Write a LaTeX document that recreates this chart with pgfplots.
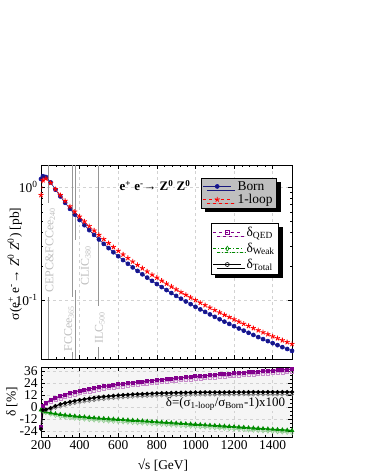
\documentclass[border=0pt]{standalone}
\usepackage{fontspec}
\setmainfont{Liberation Serif}
\usepackage{pgfplots}
\pgfplotsset{compat=1.18}
\usepackage{pgfplotstable}
\usetikzlibrary{shadows}

\definecolor{navyb}{RGB}{25,25,125}
\definecolor{qedc}{RGB}{130,0,140}
\definecolor{weakc}{RGB}{0,140,0}
\definecolor{vline}{RGB}{150,150,150}
\definecolor{vtext}{RGB}{190,190,190}

\pgfplotstableread{
s born oneloop qed qedo weak weako tot toto
200 1.18 0.85 -20 -20 -3 -3 -22 -22
210 1.25 1.15 1 0.5 -4 -4.5 -3 -3.5
225 1.23 1.19 4 3 -5 -6 -2.5 -3.5
250 1.1007 1.090 7 5.5 -6 -7.5 -1 -2.5
275 0.9495 0.959 9 7 -6.8 -8.8 1 -1
300 0.8269 0.849 11 8.5 -7.5 -10 2.7 0.2
325 0.7262 0.755 12.5 10 -8.1 -10.6 4 1.5
350 0.6418 0.675 14 11.5 -8.6 -11.1 5.2 2.7
375 0.5710 0.606 15.2 12.7 -9.1 -11.6 6.2 3.7
400 0.5112 0.547 16.3 13.8 -9.6 -12.1 7 4.5
425 0.4599 0.496 17.3 14.8 -10 -12.5 7.8 5.3
450 0.4155 0.451 18.2 15.7 -10.5 -13 8.5 6
475 0.3772 0.412 19 16.5 -10.9 -13.4 9.2 6.7
500 0.3436 0.377 19.8 17.3 -11.3 -13.8 9.8 7.3
525 0.3140 0.346 20.6 18.1 -11.6 -14.1 10.3 7.8
550 0.2879 0.319 21.3 18.8 -11.9 -14.4 10.8 8.3
575 0.2648 0.294 22 19.5 -12.2 -14.7 11.2 8.7
600 0.2442 0.2725 22.6 20.1 -12.5 -15 11.6 9.1
625 0.2258 0.2529 23.2 20.7 -12.8 -15.3 12 9.5
650 0.2093 0.2350 23.8 21.3 -13.1 -15.6 12.3 9.8
675 0.1944 0.2189 24.4 21.9 -13.4 -15.9 12.6 10.1
700 0.1810 0.2043 25 22.5 -13.7 -16.2 12.9 10.4
725 0.1688 0.1909 25.5 23 -14 -16.5 13.1 10.6
750 0.1578 0.1788 26 23.5 -14.3 -16.8 13.3 10.8
775 0.1477 0.1676 26.5 24 -14.7 -17.2 13.5 11
800 0.1385 0.1575 27 24.5 -15 -17.5 13.7 11.2
825 0.1301 0.1481 27.5 25 -15.3 -17.8 13.85 11.35
850 0.1224 0.1395 28 25.5 -15.6 -18.1 14 11.5
875 0.1152 0.1314 28.4 25.9 -15.9 -18.4 14.1 11.6
900 0.1087 0.1241 28.9 26.4 -16.2 -18.7 14.2 11.7
925 0.1026 0.1173 29.3 26.8 -16.5 -19 14.3 11.8
950 0.0970 0.1110 29.7 27.2 -16.8 -19.3 14.4 11.9
975 0.0918 0.1051 30.2 27.7 -17.1 -19.6 14.5 12
1000 0.0870 0.0997 30.6 28.1 -17.4 -19.9 14.6 12.1
1025 0.0825 0.0946 31 28.5 -17.7 -20.2 14.65 12.15
1050 0.0784 0.0899 31.4 28.9 -18 -20.5 14.7 12.2
1075 0.0745 0.0855 31.8 29.3 -18.3 -20.8 14.72 12.22
1100 0.0709 0.0814 32.2 29.7 -18.6 -21.1 14.75 12.25
1125 0.0675 0.0775 32.6 30.1 -18.9 -21.4 14.78 12.28
1150 0.0643 0.0738 33 30.5 -19.2 -21.7 14.8 12.3
1175 0.0614 0.0705 33.3 30.8 -19.5 -22 14.82 12.32
1200 0.0586 0.0673 33.7 31.2 -19.8 -22.3 14.85 12.35
1225 0.0559 0.0642 34.1 31.6 -20.1 -22.6 14.87 12.37
1250 0.0535 0.0615 34.4 31.9 -20.4 -22.9 14.9 12.4
1275 0.0512 0.0588 34.8 32.3 -20.8 -23.3 14.9 12.4
1300 0.0490 0.0563 35.1 32.6 -21.1 -23.6 14.92 12.42
1325 0.0469 0.0539 35.5 33 -21.4 -23.9 14.93 12.43
1350 0.0450 0.0517 35.8 33.3 -21.7 -24.2 14.95 12.45
1375 0.0432 0.0497 36.2 33.7 -22 -24.5 14.95 12.45
1400 0.0414 0.0476 36.5 34 -22.3 -24.8 14.96 12.46
1425 0.0398 0.0458 36.9 34.4 -22.6 -25.1 14.97 12.47
1450 0.0382 0.0439 37.2 34.7 -22.9 -25.4 14.98 12.48
1475 0.0368 0.0423 37.5 35 -23.2 -25.7 14.99 12.49
1500 0.0354 0.0407 37.8 35.3 -23.5 -26 15 12.5
}\data

\pgfplotsset{
  every axis/.append style={
    scale only axis,
    xmin=200, xmax=1500,
    tick align=inside,
    major tick length=4bp, minor tick length=2bp,
    every tick/.style={black, line width=0.5bp},
    axis line style={line width=0.9bp},
    tick label style={font=\fontsize{13.5}{15}\selectfont},
    label style={font=\fontsize{13.5}{15}\selectfont},
    /pgf/number format/assume math mode=true,
    /pgf/number format/set thousands separator={},
    grid=major,
    major grid style={dashed, gray!35, line width=0.4bp},
    minor x tick num=4,
    legend cell align=left,
    legend image code/.code={\draw[mark repeat=2,mark phase=2,##1] plot coordinates {(0bp,0bp) (14bp,0bp) (28bp,0bp)};},
  },
}

\begin{document}
\begin{tikzpicture}
\useasboundingbox (0bp,0bp) rectangle (366bp,473bp);

% ---------------- top panel ----------------
\begin{axis}[
  at={(41bp,114bp)}, anchor=south west,
  width=251bp, height=194bp,
  ymode=log, ymin=0.03, ymax=1.57,
  xtick={200,400,...,1400}, xticklabels={},
  ytick={0.1,1}, yticklabels={10\textsuperscript{-1},10\textsuperscript{0}},
  ylabel={σ(e\textsuperscript{+} e\textsuperscript{-}→ \textit{Z}\textsuperscript{0} \textit{Z}\textsuperscript{0}) [pb]},
  ylabel style={at={(axis description cs:-0.104,0.49)}, anchor=center},
  legend style={at={(0.94,0.933)}, anchor=north east, fill=gray!50, draw=black,
    line width=0.6bp, font=\fontsize{13.5}{15}\selectfont, row sep=-1.5bp,
    inner xsep=2bp, inner ysep=1bp,
    /tikz/every odd column/.append style={column sep=4bp},
    drop shadow={shadow xshift=4bp, shadow yshift=-4bp, fill=black, opacity=1}},
]
% facility lines
\addplot[vline, line width=0.9bp, forget plot] coordinates {(240,1.57) (240,0.722)};
\addplot[vline, line width=0.9bp, forget plot] coordinates {(240,0.1063) (240,0.03)};
\addplot[vline, line width=0.9bp, forget plot] coordinates {(365,1.57) (365,0.1063)};
\addplot[vline, line width=0.9bp, forget plot] coordinates {(365,0.0347) (365,0.03)};
\addplot[vline, line width=0.9bp, forget plot] coordinates {(380,1.57) (380,0.34)};
\addplot[vline, line width=0.9bp, forget plot] coordinates {(380,0.1226) (380,0.03)};
\addplot[vline, line width=0.9bp, forget plot] coordinates {(500,1.57) (500,0.0885)};
\addplot[vline, line width=0.9bp, forget plot] coordinates {(500,0.0384) (500,0.03)};
\node[rotate=90, text=vtext, font=\fontsize{12}{13}\selectfont] at (axis cs:248,0.277) {CEPC\&FCCee\textsubscript{240}};
\node[rotate=90, text=vtext, font=\fontsize{12}{13}\selectfont] at (axis cs:345,0.056) {FCCee\textsubscript{365}};
\node[rotate=90, text=vtext, font=\fontsize{12}{13}\selectfont] at (axis cs:432,0.2) {CLIC\textsubscript{380}};
\node[rotate=90, text=vtext, font=\fontsize{12}{13}\selectfont] at (axis cs:505,0.0564) {ILC\textsubscript{500}};

\addplot[navyb, line width=0.6bp, mark=*, mark size=2bp, mark options={fill=navyb, draw=blue!30!navyb}] table[x=s, y=born] {\data};
\addlegendentry{Born}
\addplot[red, dashed, line width=0.6bp, mark=star, mark size=2.6bp, mark options={solid, line width=0.9bp}] table[x=s, y=oneloop] {\data};
\addlegendentry{1-loop}

\node[font=\bfseries\fontsize{13}{15}\selectfont] at (rel axis cs:0.454,0.893) {e\textsuperscript{+} e\textsuperscript{-}→ Z\textsuperscript{0} Z\textsuperscript{0}};
\end{axis}

% ---------------- bottom panel ----------------
\begin{axis}[
  at={(41bp,36bp)}, anchor=south west,
  width=251bp, height=70bp,
  ymin=-30, ymax=40,
  ytick={-24,-12,0,12,24,36},
  minor y tick num=2,
  xtick={200,400,...,1400},
  axis background/.style={fill=gray!8},
  xlabel={√s [GeV]},
  xlabel style={at={(axis description cs:0.486,-0.4)}, anchor=center},
  ylabel={δ [\%]},
  ylabel style={at={(axis description cs:-0.116,0.5)}, anchor=center},
  legend style={at={(0.948,3.057)}, anchor=north east, fill=white, draw=black,
    line width=0.6bp, font=\fontsize{13.5}{15}\selectfont, row sep=1bp,
    inner xsep=2bp, inner ysep=2bp,
    /tikz/every odd column/.append style={column sep=3bp},
    drop shadow={shadow xshift=4bp, shadow yshift=-4bp, fill=black, opacity=1}},
]
\addplot[qedc!45, line width=0.5bp, mark=square, mark size=1.5bp, forget plot] table[x=s, y=qedo] {\data};
\addplot[qedc, line width=1.2bp, mark=square*, mark size=1.4bp, forget plot] table[x=s, y=qed] {\data};
\addplot[weakc!45, line width=0.5bp, mark=diamond, mark size=1.8bp, forget plot] table[x=s, y=weako] {\data};
\addplot[weakc, line width=1.2bp, mark=triangle*, mark size=1.6bp, forget plot] table[x=s, y=weak] {\data};
\addplot[black!55, line width=0.5bp, mark=o, mark size=1.5bp, forget plot] table[x=s, y=toto] {\data};
\addplot[black, line width=1.2bp, mark=*, mark size=1.4bp, forget plot] table[x=s, y=tot] {\data};

\addlegendimage{qedc, dashed, line width=0.6bp, mark=square, mark size=2bp, mark options={solid, fill=white}}
\addlegendentry{δ\textsubscript{QED}}
\addlegendimage{weakc, dash dot, line width=0.6bp, mark=diamond, mark size=2.4bp, mark options={solid, fill=white}}
\addlegendentry{δ\textsubscript{Weak}}
\addlegendimage{black, line width=0.6bp, mark=o, mark size=2bp, mark options={solid, fill=white}}
\addlegendentry{δ\textsubscript{Total}}

\node[font=\fontsize{13}{15}\selectfont, fill=gray!8, inner sep=0.5bp] at (rel axis cs:0.735,0.47) {δ=(σ\textsubscript{1-loop}/σ\textsubscript{Born}-1)x100};
\end{axis}
\end{tikzpicture}
\end{document}
